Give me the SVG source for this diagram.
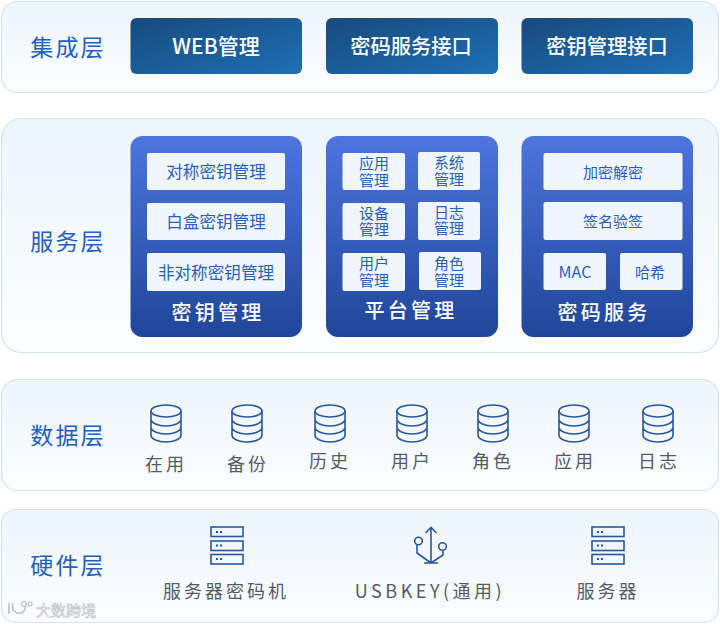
<svg xmlns="http://www.w3.org/2000/svg" xmlns:xlink="http://www.w3.org/1999/xlink" width="720" height="624" viewBox="0 0 720 624">
<style>
text{font-family:"Noto Sans CJK SC","Noto Sans",sans-serif;text-anchor:middle}
.layer{stroke:#d5e3ef;stroke-width:1.2}
.ln{font-size:23px;fill:#2360bf;letter-spacing:2.200px}
.btn{font-size:20.300px;fill:#fff;font-weight:500}
.ttl{font-size:20px;fill:#fff;letter-spacing:3.300px;font-weight:500}
.in{fill:#eff6fe}
.t{font-size:16.600px;fill:#2a5fb8}
.s{font-size:15px;fill:#2a5fb8}
.l{font-size:18px;fill:#555b63;letter-spacing:3px}
.ic{fill:none;stroke:#27589f;stroke-width:1.600}
</style>
<defs>
<linearGradient id="bg" x1="0" y1="0" x2="0" y2="1"><stop offset="0" stop-color="#edf5fd"/><stop offset="1" stop-color="#fcfdff"/></linearGradient>
<linearGradient id="dark" x1="0" y1="0" x2="1" y2="1"><stop offset="0" stop-color="#174a7c"/><stop offset="1" stop-color="#1f6fb6"/></linearGradient>
<linearGradient id="blue" x1="0" y1="0" x2="0" y2="1"><stop offset="0" stop-color="#4f74de"/><stop offset="1" stop-color="#1f4699"/></linearGradient>
<g id="db" class="ic">
<ellipse cx="0" cy="-12" rx="15" ry="6"/>
<path d="M-15-12V12C-15 16-8 19 0 19S15 16 15 12V-12M-15-4C-15 0-8 3 0 3S15 0 15-4M-15 4C-15 8-8 11 0 11S15 8 15 4"/>
</g>
<g id="srv">
<g class="ic"><rect x="-16" y="-19" width="32" height="9.500"/><rect x="-16" y="-5" width="32" height="9.500"/><rect x="-16" y="8.500" width="32" height="9.500"/></g>
<path d="M-11-15h2v2h-2zM-7-15h2v2h-2zM-11-1.500h2v2h-2zM-7-1.500h2v2h-2zM-11 12h2v2h-2zM-7 12h2v2h-2z" fill="#27589f"/>
</g>
</defs>

<g id="layer-integration">
<rect class="layer" x="1.500" y="1.500" width="717" height="91" rx="16" fill="url(#bg)"/>
<text class="ln" x="68" y="56">集成层</text>
<g id="web"><rect x="130.500" y="18" width="171.500" height="56" rx="6" fill="url(#dark)"/><text class="btn" x="216" y="54" style="font-size:21px">WEB管理</text></g>
<g id="crypto-api"><rect x="326" y="18" width="172" height="56" rx="6" fill="url(#dark)"/><text class="btn" x="411" y="54">密码服务接口</text></g>
<g id="key-api"><rect x="521.500" y="18" width="171.500" height="56" rx="6" fill="url(#dark)"/><text class="btn" x="607" y="54">密钥管理接口</text></g>
</g>

<g id="layer-service">
<rect class="layer" x="1.500" y="118.500" width="717" height="234" rx="20" fill="url(#bg)"/>
<text class="ln" x="68" y="250">服务层</text>
<g id="key-mgmt">
<rect x="130.500" y="136" width="171.500" height="201" rx="12" fill="url(#blue)"/>
<rect class="in" x="147" y="153" width="138" height="37" rx="2"/><text class="t" x="216" y="178">对称密钥管理</text>
<rect class="in" x="147" y="203" width="138" height="37" rx="2"/><text class="t" x="216" y="228">白盒密钥管理</text>
<rect class="in" x="147" y="253" width="138" height="38" rx="2"/><text class="t" x="216" y="279">非对称密钥管理</text>
<text class="ttl" x="218" y="320">密钥管理</text>
</g>
<g id="platform-mgmt">
<rect x="326" y="136" width="172" height="201" rx="12" fill="url(#blue)"/>
<rect class="in" x="342.500" y="153" width="62.500" height="37" rx="2"/><text class="s" y="169"><tspan x="374">应用</tspan><tspan x="374" dy="17">管理</tspan></text>
<rect class="in" x="418" y="152" width="62" height="38" rx="2"/><text class="s" y="168"><tspan x="449">系统</tspan><tspan x="449" dy="17">管理</tspan></text>
<rect class="in" x="342.500" y="203" width="62.500" height="37" rx="2"/><text class="s" y="219"><tspan x="374">设备</tspan><tspan x="374" dy="16">管理</tspan></text>
<rect class="in" x="418" y="202" width="62" height="38" rx="2"/><text class="s" y="218"><tspan x="449">日志</tspan><tspan x="449" dy="16">管理</tspan></text>
<rect class="in" x="342.500" y="253" width="62.500" height="38" rx="2"/><text class="s" y="269"><tspan x="374">用户</tspan><tspan x="374" dy="17">管理</tspan></text>
<rect class="in" x="419" y="252" width="62" height="38" rx="2"/><text class="s" y="269"><tspan x="449">角色</tspan><tspan x="449" dy="17">管理</tspan></text>
<text class="ttl" x="411" y="318">平台管理</text>
</g>
<g id="crypto-svc">
<rect x="521.500" y="136" width="171.500" height="201" rx="12" fill="url(#blue)"/>
<rect class="in" x="543.500" y="153" width="139" height="37" rx="2"/><text class="s" x="613" y="178">加密解密</text>
<rect class="in" x="543.500" y="202" width="139" height="38" rx="2"/><text class="s" x="613" y="227">签名验签</text>
<rect class="in" x="543.500" y="253" width="62.500" height="37" rx="2"/><text class="s" x="575" y="278" style="font-size:16px">MAC</text>
<rect class="in" x="620" y="253" width="62.500" height="37" rx="2"/><text class="s" x="650" y="278">哈希</text>
<text class="ttl" x="604" y="320">密码服务</text>
</g>
</g>

<g id="layer-data">
<rect class="layer" x="1.500" y="379.500" width="717" height="111" rx="16" fill="url(#bg)"/>
<text class="ln" x="68" y="444">数据层</text>
<g id="d1"><use xlink:href="#db" href="#db" x="166" y="423"/><text class="l" x="166" y="471">在用</text></g>
<g id="d2"><use xlink:href="#db" href="#db" x="247" y="423"/><text class="l" x="248" y="471">备份</text></g>
<g id="d3"><use xlink:href="#db" href="#db" x="330" y="423"/><text class="l" x="330" y="468">历史</text></g>
<g id="d4"><use xlink:href="#db" href="#db" x="412" y="423"/><text class="l" x="412" y="468">用户</text></g>
<g id="d5"><use xlink:href="#db" href="#db" x="493" y="423"/><text class="l" x="493" y="468">角色</text></g>
<g id="d6"><use xlink:href="#db" href="#db" x="574" y="423"/><text class="l" x="575" y="468">应用</text></g>
<g id="d7"><use xlink:href="#db" href="#db" x="658" y="423"/><text class="l" x="659" y="468">日志</text></g>
</g>

<g id="layer-hardware">
<rect class="layer" x="1.500" y="509.500" width="717" height="113" rx="14" fill="url(#bg)"/>
<text class="ln" x="68" y="574">硬件层</text>
<g id="hsm"><use xlink:href="#srv" href="#srv" x="227" y="546"/><text class="l" x="226" y="598">服务器密码机</text></g>
<g id="usbkey">
<path class="ic" d="M431 563V528M425.500 533L431 527.500L436.500 533M431 563L417 553V545M431 563L443 555V551M424 563H438"/>
<circle class="ic" cx="418.500" cy="541" r="3.800"/><circle class="ic" cx="442.500" cy="546.500" r="3.800"/>
<text class="l" x="430" y="598" style="letter-spacing:3.500px">USBKEY(通用)</text>
</g>
<g id="server"><use xlink:href="#srv" href="#srv" x="608" y="546"/><text class="l" x="608" y="598">服务器</text></g>
</g>

<g id="watermark" fill="#fff" stroke="#b9bfc6" stroke-width=".6">
<path fill="none" stroke-width="1.500" d="M9 603V614M13 603C11 610 15 614 21 613C24 612 26 609 25 606"/>
<circle cx="24" cy="604" r="2.500" fill="none" stroke-width="1.200"/><circle cx="30" cy="604" r="2" fill="none" stroke-width="1.200"/>
<text x="66" y="616" style="font-size:15px">大数跨境</text>
</g>
</svg>
